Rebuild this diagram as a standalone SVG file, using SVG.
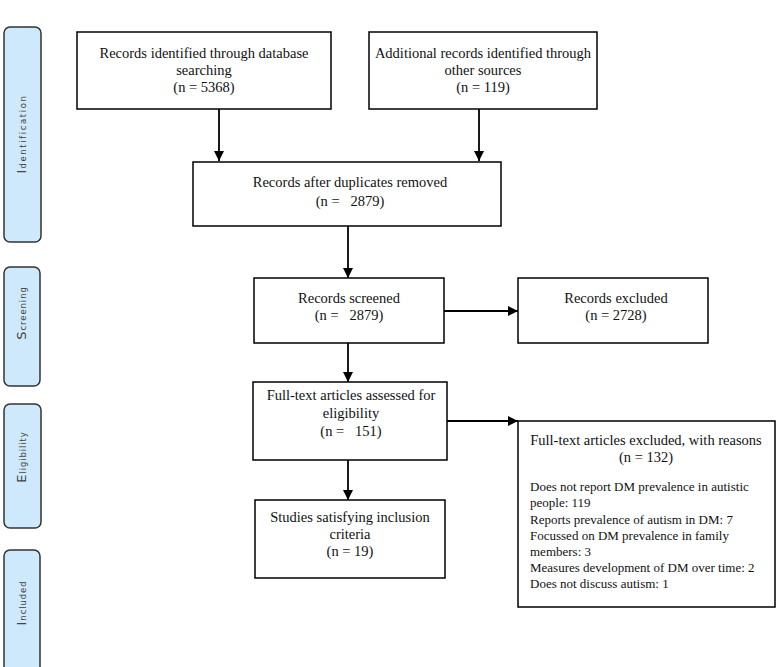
<svg xmlns="http://www.w3.org/2000/svg" width="776" height="667" viewBox="0 0 776 667">
<style>
.box{fill:#fff;stroke:#000;stroke-width:1.5}
.phase{fill:#cde9fb;stroke:#333;stroke-width:1.5}
.t{font-family:"Liberation Serif","Times New Roman",serif;font-size:14.5px;fill:#111;text-anchor:middle;white-space:pre}
.l{font-family:"Liberation Serif","Times New Roman",serif;font-size:13px;fill:#111;white-space:pre}
.p{font-family:"DejaVu Sans","Liberation Sans",sans-serif;font-size:8.5px;fill:#444;text-anchor:middle;letter-spacing:1.6px}
.p .c{font-size:13px;letter-spacing:1px}
.p.n{letter-spacing:0.9px}
.conn{stroke:#000;stroke-width:1.8;fill:none}
</style>
<defs>
<marker id="ah" viewBox="0 0 10 10" refX="10" refY="5" markerWidth="10" markerHeight="10" markerUnits="userSpaceOnUse" orient="auto">
<path d="M0,0 L10,5 L0,10 z" fill="#000"/>
</marker>
</defs>
<rect width="776" height="667" fill="#fff"/>

<g id="phase-identification">
<rect class="phase" x="4" y="27" width="37" height="215" rx="6"/>
<text class="p" transform="translate(26,134) rotate(-90)"><tspan class="c">I</tspan>dentification</text>
</g>
<g id="phase-screening">
<rect class="phase" x="4" y="267" width="36" height="119" rx="6"/>
<text class="p n" transform="translate(26,313) rotate(-90)"><tspan class="c">S</tspan>creening</text>
</g>
<g id="phase-eligibility">
<rect class="phase" x="4" y="404" width="37" height="124" rx="6"/>
<text class="p n" transform="translate(26,457) rotate(-90)"><tspan class="c">E</tspan>ligibility</text>
</g>
<g id="phase-included">
<rect class="phase" x="4" y="550" width="36" height="125" rx="6"/>
<text class="p n" transform="translate(26,603) rotate(-90)"><tspan class="c">I</tspan>ncluded</text>
</g>

<g id="connectors">
<line class="conn" x1="219" y1="109" x2="219" y2="161" marker-end="url(#ah)"/>
<line class="conn" x1="479" y1="109" x2="479" y2="161" marker-end="url(#ah)"/>
<line class="conn" x1="348" y1="226" x2="348" y2="278" marker-end="url(#ah)"/>
<line class="conn" x1="444" y1="311" x2="518" y2="311" marker-end="url(#ah)"/>
<line class="conn" x1="348" y1="343" x2="348" y2="382" marker-end="url(#ah)"/>
<line class="conn" x1="447" y1="421" x2="518" y2="421" marker-end="url(#ah)"/>
<line class="conn" x1="348" y1="460" x2="348" y2="500" marker-end="url(#ah)"/>
</g>

<g id="n-db">
<rect class="box" x="77" y="32" width="254" height="77"/>
<text class="t" x="204" y="58">Records identified through database</text>
<text class="t" x="204" y="75">searching</text>
<text class="t" x="204" y="92">(n = 5368)</text>
</g>
<g id="n-other">
<rect class="box" x="369" y="32" width="228" height="77"/>
<text class="t" x="483" y="58">Additional records identified through</text>
<text class="t" x="483" y="75">other sources</text>
<text class="t" x="483" y="92">(n = 119)</text>
</g>
<g id="n-dedup">
<rect class="box" x="193" y="162" width="308" height="64"/>
<text class="t" x="350" y="187">Records after duplicates removed</text>
<text class="t" x="350" y="206">(n =   2879)</text>
</g>
<g id="n-screened">
<rect class="box" x="254" y="278" width="190" height="65"/>
<text class="t" x="349" y="303">Records screened</text>
<text class="t" x="349" y="320">(n =   2879)</text>
</g>
<g id="n-excluded">
<rect class="box" x="518" y="278" width="190" height="65"/>
<text class="t" x="616" y="303">Records excluded</text>
<text class="t" x="616" y="320">(n = 2728)</text>
</g>
<g id="n-fulltext">
<rect class="box" x="253" y="382" width="194" height="78"/>
<text class="t" x="351" y="400">Full-text articles assessed for</text>
<text class="t" x="351" y="418">eligibility</text>
<text class="t" x="351" y="436">(n =   151)</text>
</g>
<g id="n-reasons">
<rect class="box" x="518" y="421" width="257" height="186"/>
<text class="t" x="646" y="445">Full-text articles excluded, with reasons</text>
<text class="t" x="646" y="462">(n = 132)</text>
<text class="l" x="530" y="491">Does not report DM prevalence in autistic</text>
<text class="l" x="530" y="507">people: 119</text>
<text class="l" x="530" y="524">Reports prevalence of autism in DM: 7</text>
<text class="l" x="530" y="540">Focussed on DM prevalence in family</text>
<text class="l" x="530" y="556">members: 3</text>
<text class="l" x="530" y="572">Measures development of DM over time: 2</text>
<text class="l" x="530" y="588">Does not discuss autism: 1</text>
</g>
<g id="n-included">
<rect class="box" x="255" y="500" width="190" height="78"/>
<text class="t" x="350" y="522">Studies satisfying inclusion</text>
<text class="t" x="350" y="539">criteria</text>
<text class="t" x="350" y="556">(n = 19)</text>
</g>
</svg>
